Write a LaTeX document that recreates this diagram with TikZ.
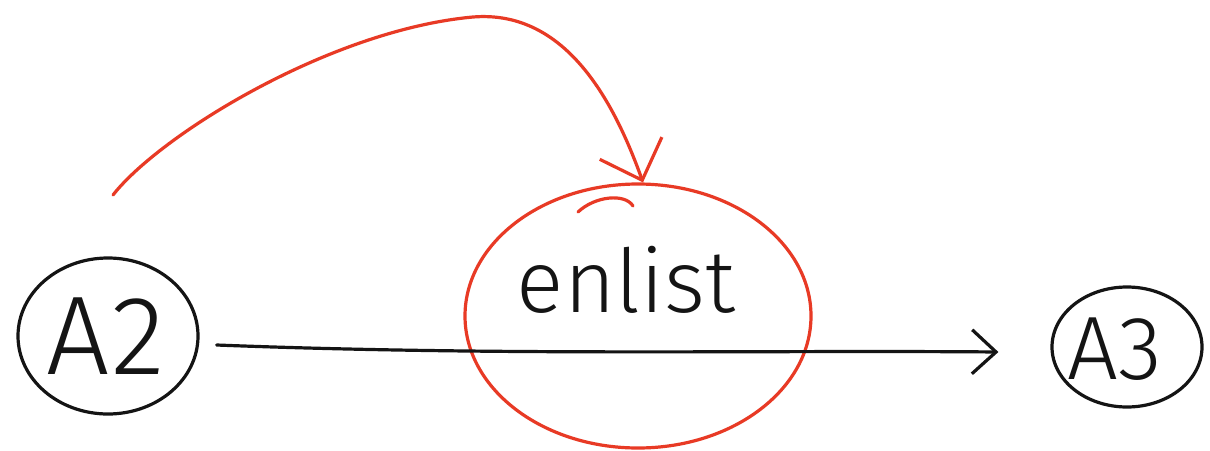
\documentclass[tikz,border=0pt]{standalone}
\usepackage{fontspec}
\newfontfamily\hand{Fira Sans Light}
\usetikzlibrary{arrows.meta,shapes.geometric}
\definecolor{pen}{RGB}{20,20,20}
\definecolor{redpen}{RGB}{232,58,37}
\tikzset{
  blackline/.style={draw=pen,line width=3.2pt,line cap=round,line join=round},
  redline/.style={draw=redpen,line width=3.2pt,line cap=round,line join=round},
  ring/.style={ellipse,inner sep=0pt,blackline},
  redring/.style={ellipse,inner sep=0pt,redline},
  handtext/.style={font=\hand\fontsize{#1}{#1}\selectfont,text=pen,inner sep=0pt}
}
\begin{document}
\begin{tikzpicture}[x=1pt,y=-1pt]
\useasboundingbox (0,0) rectangle (1210,450);
\fill[white] (0,0) rectangle (1210,450);
% nodes
\node[ring,minimum width=180pt,minimum height=156pt] (A2) at (108,336) {};
\node[handtext=112] (A2t) at (106,336) {A2};
\node[ring,minimum width=150pt,minimum height=120pt] (A3) at (1127,347) {};
\node[handtext=90] (A3t) at (1115,349) {A3};
\node[redring,minimum width=346pt,minimum height=264pt] (enlist) at (638,316) {};
\node[handtext=88,anchor=base] (enlistt) at (626,312) {enlist};
% small extra stroke on the red circle
\draw[redline] (578,212) .. controls (595,196) and (625,193) .. (633,206);
% black connector
\draw[blackline,-{Straight Barb[length=24pt,width=44pt]}]
  ([shift={(17,9)}]A2.east) .. controls (500,356) and (760,350) .. ([shift={(-52,5)}]A3.west);
% red connector
\coordinate (rs) at (113,195);
\draw[redline,-{Straight Barb[length=34pt,width=66pt]}]
  (rs) .. controls (160,135) and (330,30) .. (473,17)
       .. controls (560,10) and (610,90) .. ([xshift=5pt]enlist.north);
\end{tikzpicture}
\end{document}
